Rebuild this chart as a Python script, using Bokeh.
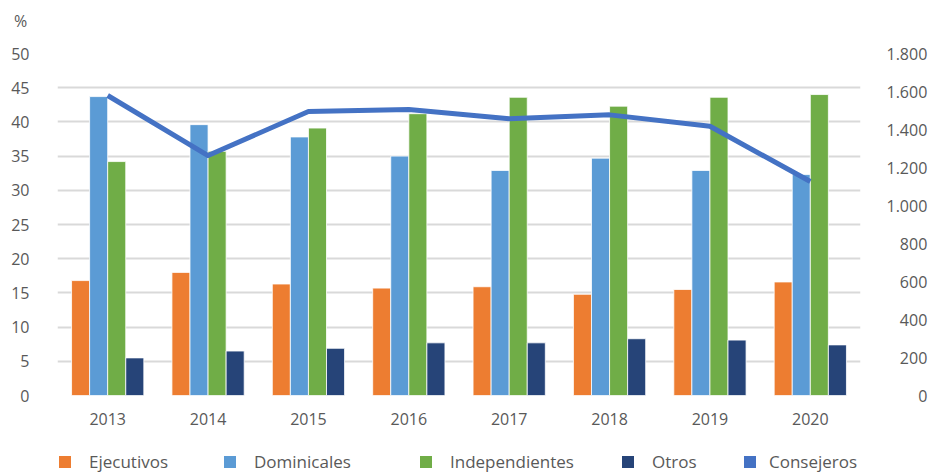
from bokeh.plotting import figure
from bokeh.layouts import column
from bokeh.models import (FactorRange, Range1d, LinearAxis, FixedTicker,
                          ColumnDataSource, Legend, LegendItem, Div)
from bokeh.transform import dodge
from bokeh.embed import file_html
from bokeh.resources import INLINE

years = ["2013", "2014", "2015", "2016", "2017", "2018", "2019", "2020"]
ejecutivos = [16.8, 18.0, 16.3, 15.7, 15.9, 14.8, 15.5, 16.6]
dominicales = [43.7, 39.6, 37.8, 35.0, 32.9, 34.7, 32.9, 32.3]
independientes = [34.2, 35.7, 39.1, 41.2, 43.6, 42.3, 43.6, 44.0]
otros = [5.5, 6.5, 6.9, 7.7, 7.7, 8.3, 8.1, 7.4]
consejeros = [1579, 1263, 1495, 1505, 1456, 1477, 1417, 1126]

left_ticks = [0, 5, 10, 15, 20, 25, 30, 35, 40, 45, 50]
right_ticks = [0, 200, 400, 600, 800, 1000, 1200, 1400, 1600, 1800]
right_tick_labels = ["0", "200", "400", "600", "800", "1.000", "1.200", "1.400", "1.600", "1.800"]
series_names = ["Ejecutivos", "Dominicales", "Independientes", "Otros", "Consejeros"]
series_colors = ["#ED7D31", "#5B9BD5", "#70AD47", "#264478", "#4472C4"]
unit_label = "%"

FONT = "Open Sans"
TXT = "#595959"

source = ColumnDataSource(dict(x=years, ejecutivos=ejecutivos, dominicales=dominicales,
                               independientes=independientes, otros=otros,
                               consejeros=consejeros))

# unit label above the left axis
unit = Div(text='<div style="margin:0;padding:10px 0 0 14px;line-height:22px;'
                'font-family:\'Open Sans\';font-size:16px;color:%s">%s</div>' % (TXT, unit_label),
           width=120, height=32, margin=0)

p = figure(width=930, height=408, x_range=FactorRange(*years), y_range=Range1d(0, 50),
           output_backend="svg", toolbar_location=None,
           min_border_left=57, min_border_right=70, min_border_top=21, min_border_bottom=45)
p.extra_y_ranges = {"right": Range1d(0, 1800)}
p.x_range.range_padding = 0
p.outline_line_color = None
p.background_fill_color = "white"
p.border_fill_color = "white"

bar_w = 0.18
offsets = [-0.27, -0.09, 0.09, 0.27]
cols = ["ejecutivos", "dominicales", "independientes", "otros"]
for col, off, color in zip(cols, offsets, series_colors[:4]):
    p.vbar(x=dodge("x", off, range=p.x_range), top=col, width=bar_w, source=source,
           fill_color=color, line_color="white", line_width=0.8)

p.line(x="x", y="consejeros", source=source, y_range_name="right",
       line_color=series_colors[4], line_width=5, line_join="round")

# axes
ax = p.yaxis[0]
ax.ticker = FixedTicker(ticks=left_ticks)
pad = {1: "\u2007\u2008\u2007\u2007", 3: "\u2007\u2008"}
overrides = {t: pad.get(len(s), "") + s for t, s in zip(right_ticks, right_tick_labels)}
rax = LinearAxis(y_range_name="right", ticker=FixedTicker(ticks=right_ticks),
                 major_label_overrides=overrides)
p.add_layout(rax, "right")
xa = p.xaxis[0]

for a, so in ((ax, 28), (rax, 26), (xa, 17)):
    a.axis_line_color = None
    a.major_tick_line_color = None
    a.minor_tick_line_color = None
    a.major_tick_out = 0
    a.major_tick_in = 0
    a.major_label_standoff = so
    a.major_label_text_font = FONT
    a.major_label_text_font_size = "16px"
    a.major_label_text_color = TXT

p.xgrid.grid_line_color = None
p.ygrid.grid_line_color = "#d9d9d9"
p.ygrid.grid_line_width = 2

# legend strip (its frame is aligned with the chart's frame by the column layout)
lg = figure(width=930, height=33, x_range=Range1d(0, 1), y_range=Range1d(0, 1),
            x_axis_type=None, y_axis_type=None, output_backend="svg",
            toolbar_location=None, min_border=0)
lg.outline_line_color = None
legend_x = [0, 165, 361, 563, 685]
legend_standoff = [17, 17, 17, 17, 12]
for name, color, lx, st in zip(series_names, series_colors, legend_x, legend_standoff):
    sw = lg.vbar(x=[0.5], top=[float("nan")], width=0.1, fill_color=color, line_color=None)
    leg = Legend(items=[LegendItem(label=name, renderers=[sw])], location=(lx, 0),
                 orientation="horizontal", glyph_width=15, glyph_height=15,
                 label_standoff=st, padding=0, margin=0, border_line_color=None,
                 background_fill_alpha=0, label_text_font=FONT,
                 label_text_font_size="17px", label_text_color=TXT, label_height=15)
    lg.add_layout(leg)

layout = column(unit, p, lg, spacing=0)
open("out.html", "w").write(file_html(layout, INLINE))
